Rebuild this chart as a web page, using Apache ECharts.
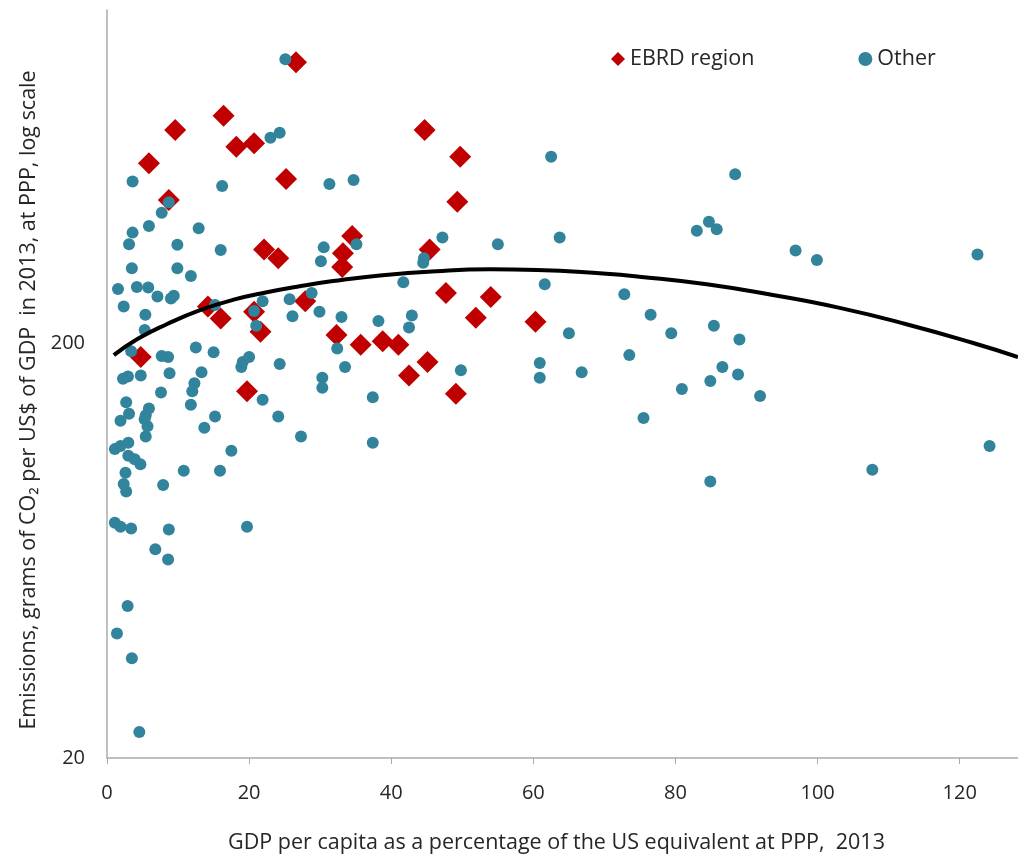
<!DOCTYPE html>
<html>
<head>
<meta charset="utf-8">
<script src="https://cdn.jsdelivr.net/npm/echarts@6/dist/echarts.min.js"></script>
<style>
  html, body { margin: 0; padding: 0; background: #fff; }
  #chart { width: 1018px; height: 860px; }
</style>
</head>
<body>
<div id="chart"></div>
<script>
// ---- Data ----
const xTicks = [0, 20, 40, 60, 80, 100, 120];
const yTicks = [20, 200];

const ebrdX = [26.6, 9.6, 16.4, 5.9, 18.2, 20.7, 8.7, 25.2, 22.1, 24.1, 34.5, 33.2, 33.1, 27.9, 14.2, 16.0, 20.7, 21.6, 32.3, 35.7, 38.8, 41.0, 45.1, 42.5, 49.1, 4.75, 19.7, 44.7, 49.7, 49.3, 45.4, 47.7, 54.0, 51.9, 60.3];
const ebrdY = [950, 652, 706, 542, 594, 606, 442, 497, 336, 320, 362, 329, 305, 252, 245, 229, 238, 213, 209, 198, 202, 198, 180, 167, 151, 185, 153, 652, 562, 438, 336, 264, 258, 230, 225];

const otherX = [25.1, 24.3, 23.0, 3.6, 16.2, 31.3, 34.7, 8.7, 7.7, 5.9, 3.6, 3.1, 12.9, 9.9, 16.0, 30.5, 35.1, 30.1, 3.5, 9.9, 11.8, 1.55, 4.2, 5.8, 7.1, 9.0, 9.4, 2.35, 5.4, 5.3, 15.2, 21.9, 20.7, 21.0, 25.7, 26.1, 28.8, 29.9, 33.0, 38.2,
  62.5, 47.2, 55.0, 63.7, 44.6, 44.5, 41.7, 61.6, 72.8, 42.9, 42.5, 65.0, 76.5,
  88.4, 83.0, 84.7, 85.8, 96.9, 99.9, 122.5, 79.4, 85.4, 89.0, 86.6, 88.8, 84.9, 80.9, 91.9, 75.5, 124.2, 107.7, 84.9,
  73.5, 60.9, 60.9, 66.8, 49.8, 37.4, 37.4,
  3.4, 7.7, 8.6, 12.5, 15.0, 19.1, 20.0, 18.9, 24.3, 32.4, 33.5, 30.3, 30.3, 2.25, 2.95, 4.75, 8.8, 7.6, 13.3, 12.3, 12.0, 11.8, 15.2, 13.7, 17.5, 21.9, 24.1, 27.3, 2.7, 3.1, 1.9, 5.9, 5.45, 5.3, 5.7, 5.45, 1.1, 1.9, 3.0, 3.0, 3.9, 4.7, 2.6, 2.35, 2.7, 7.9, 10.8, 15.9, 1.1, 1.9, 3.4, 8.7, 19.7, 6.8, 8.6,
  2.9, 1.4, 3.5, 4.55];
const otherY = [966, 642, 625, 490, 478, 483, 494, 437, 412, 383, 369, 346, 378, 345, 335, 340, 346, 315, 303, 303, 290, 270, 273, 272, 259, 256, 260, 245, 234, 215, 247, 252, 239, 220, 255, 232, 264, 238, 231, 226,
  562, 359, 346, 359, 320, 312, 280, 277, 262, 233, 218, 211, 234,
  510, 373, 392, 376, 334, 317, 327, 211, 220, 204, 175, 168, 162, 155, 149, 132, 113, 99, 92.7,
  187, 179, 165, 170, 172, 148, 115,
  191, 186, 185, 195, 190, 180, 185, 175, 178, 194, 175, 165, 156, 164, 166, 167, 169, 152, 170, 160, 153, 142, 133, 125, 110, 146, 133, 119, 144, 135, 130, 139, 134, 131, 126, 119, 111, 113, 115, 107, 105, 102, 97.4, 91.5, 87.7, 91, 98.5, 98.5, 73.8, 72.2, 71.5, 71.1, 72.2, 63.7, 60.2,
  46.5, 39.9, 34.8, 23.1];

const trendX = [0.96, 4.4, 8.4, 13.1, 17.7, 22.5, 27.1, 31.8, 38.4, 46.4, 53.9, 60.5, 69.8, 74.9, 84.4, 93.7, 103.1, 112.5, 121.9, 128.2];
const trendY = [187, 205, 222, 240, 254, 265, 274, 282, 291, 298, 301, 300, 294, 289, 277, 261, 243, 222, 200, 185];

const zip = (xs, ys) => xs.map((x, i) => [x, ys[i]]);

const FONT = 'Open Sans';
const TXT = '#262626';
const chart = echarts.init(document.getElementById('chart'), null, { renderer: 'canvas' });
chart.setOption({
  backgroundColor: '#ffffff',
  animation: false,
  textStyle: { fontFamily: FONT },
  grid: { left: 107, right: 0, top: 10, bottom: 102, containLabel: false },
  legend: {
    top: 43, left: 606,
    itemGap: 104, itemWidth: 14, itemHeight: 14,
    textStyle: { fontFamily: FONT, fontSize: 21.5, color: TXT },
    data: [
      { name: 'EBRD region', icon: 'diamond' },
      { name: 'Other', icon: 'circle' }
    ]
  },
  xAxis: {
    type: 'value', min: 0, max: 128.2, interval: 20,
    name: 'GDP per capita as a percentage of the US equivalent at PPP,  2013',
    nameLocation: 'middle', nameGap: 74,
    nameTextStyle: { fontFamily: FONT, fontSize: 21.5, color: TXT, padding: [0, 12, 0, 0] },
    axisLine: { lineStyle: { color: '#ABABAB', width: 1.5 } },
    axisTick: { show: true, length: 6, lineStyle: { color: '#ABABAB' }, customValues: xTicks },
    axisLabel: { fontFamily: FONT, fontSize: 20, color: TXT, margin: 25, customValues: xTicks },
    splitLine: { show: false }
  },
  yAxis: {
    type: 'log', logBase: 10, min: 20, max: 1269,
    name: 'Emissions, grams of CO₂ per US$ of GDP  in 2013, at PPP, log scale',
    nameLocation: 'middle', nameGap: 57, nameRotate: 90,
    nameTextStyle: { fontFamily: FONT, fontSize: 21.5, color: TXT, padding: [0, 32, 0, 0] },
    axisLine: { show: true, lineStyle: { color: '#ABABAB', width: 1.5 } },
    axisTick: { show: false, customValues: yTicks },
    axisLabel: { fontFamily: FONT, fontSize: 20, color: TXT, margin: 22, customValues: yTicks },
    splitLine: { show: false },
    minorSplitLine: { show: false }
  },
  series: [
    {
      name: 'EBRD region', type: 'scatter', symbol: 'diamond', symbolSize: 22,
      itemStyle: { color: '#C00000', opacity: 1 }, z: 2,
      data: zip(ebrdX, ebrdY)
    },
    {
      name: 'Other', type: 'scatter', symbol: 'circle', symbolSize: 12,
      itemStyle: { color: '#31849B', opacity: 1 }, z: 3,
      data: zip(otherX, otherY)
    },
    {
      name: 'Trend', type: 'line', smooth: true, symbol: 'none', z: 4,
      lineStyle: { color: '#000000', width: 4 },
      data: zip(trendX, trendY)
    }
  ]
});
</script>
</body>
</html>
